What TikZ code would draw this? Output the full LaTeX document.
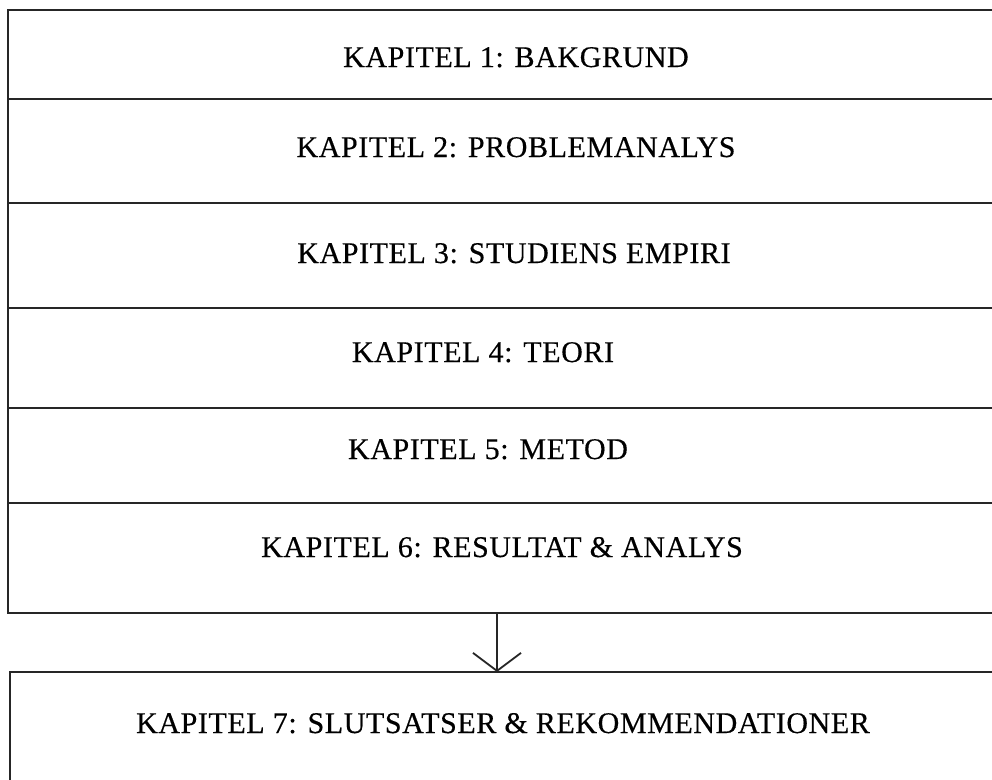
\documentclass[tikz,border=0pt]{standalone}
\usepackage{fontspec}
\setmainfont{Liberation Serif}
\newfontfamily\lblfont[LetterSpace=2,FakeBold=0.4]{Liberation Serif}
\usetikzlibrary{arrows.meta}
\begin{document}
\begin{tikzpicture}[x=1pt,y=-1pt,
  rowbox/.style={draw=black!85, line width=2pt, minimum width=992pt, inner sep=0pt, outer sep=0pt},
  lbl/.style={anchor=base, inner sep=0pt, font=\lblfont\fontsize{30}{34}\selectfont, text=black},
  conn/.style={draw=black!85, line width=1.8pt, -{Straight Barb[length=18pt,width=48pt,line width=1.8pt]}}]
\useasboundingbox (0,0) rectangle (992,779);
\fill[white] (0,0) rectangle (992,779);
\clip (0,0) rectangle (992,779);
% top stack of rows
\node[rowbox, minimum height=89pt]  (r1) at (504,54.5) {};
\node[rowbox, minimum height=104pt] (r2) at (504,151) {};
\node[rowbox, minimum height=105pt] (r3) at (504,255.5) {};
\node[rowbox, minimum height=100pt] (r4) at (504,358) {};
\node[rowbox, minimum height=95pt]  (r5) at (504,455.5) {};
\node[rowbox, minimum height=110pt] (r6) at (504,558) {};
% bottom box
\node[rowbox, minimum height=130pt] (b7) at (506,737) {};
% labels
\node[lbl] (t1) at (516,67) {KAPITEL 1: BAKGRUND};
\node[lbl] (t2) at (516,157) {KAPITEL 2: PROBLEMANALYS};
\node[lbl] (t3) at (514,263) {KAPITEL 3: STUDIENS EMPIRI};
\node[lbl] (t4) at (483,362) {KAPITEL 4: TEORI};
\node[lbl] (t5) at (488,459) {KAPITEL 5: METOD};
\node[lbl] (t6) at (502,557) {KAPITEL 6: RESULTAT \& ANALYS};
\node[lbl] (t7) at (503,733) {KAPITEL 7: SLUTSATSER \& REKOMMENDATIONER};
% connector
\coordinate (ax) at (497,0);
\draw[conn] (r6.south -| ax) -- (b7.north -| ax);
\end{tikzpicture}
\end{document}
